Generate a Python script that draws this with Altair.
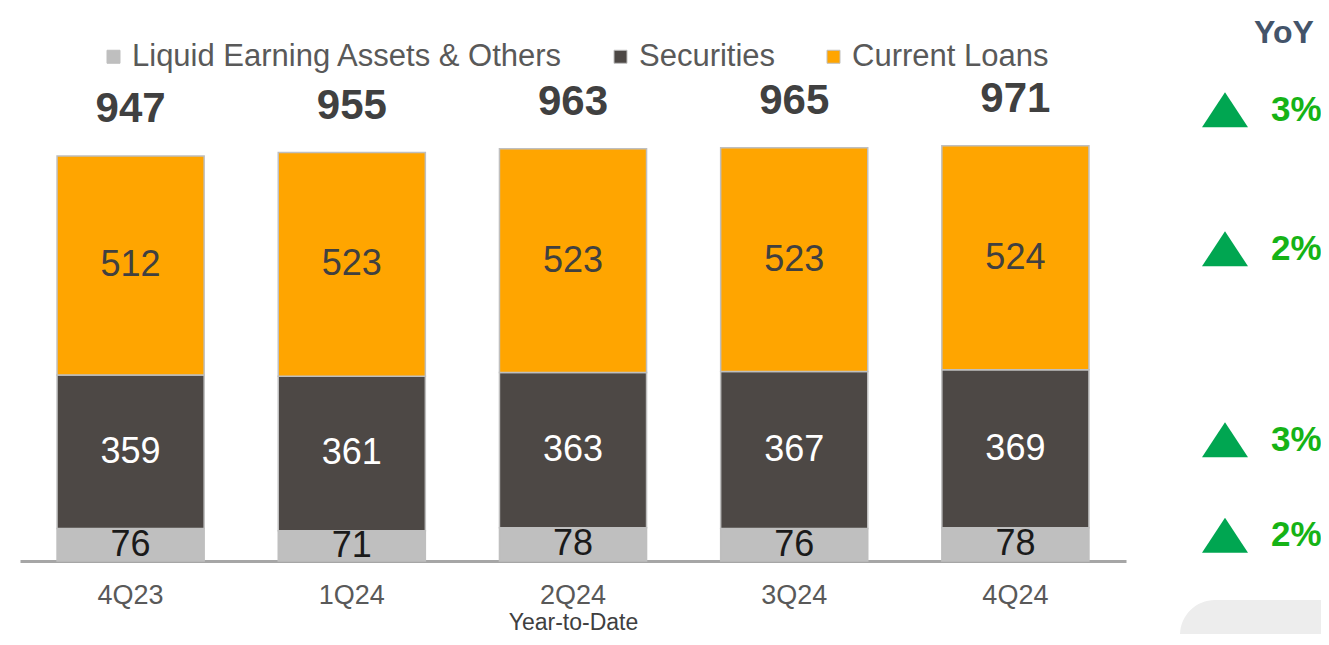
import altair as alt
import pandas as pd

# ---- data ----
quarters = ["4Q23", "1Q24", "2Q24", "3Q24", "4Q24"]
liquid = [76, 71, 78, 76, 78]
securities = [359, 361, 363, 367, 369]
loans = [512, 523, 523, 523, 524]
totals = [947, 955, 963, 965, 971]

series = ["Liquid Earning Assets & Others", "Securities", "Current Loans"]
series_colors = ["#bfbfbf", "#4d4845", "#ffa500"]
label_colors = ["#1a1a1a", "#ffffff", "#404040"]

yoy_total = "3%"
yoy_segments = ["2%", "3%", "2%"]          # Current Loans, Securities, Liquid
yoy_segment_series = ["Current Loans", "Securities", "Liquid Earning Assets & Others"]

FONT = "Liberation Sans, Arial, Helvetica, sans-serif"

# ---- tables built from the arrays ----
rows = []
values_by_series = {series[0]: liquid, series[1]: securities, series[2]: loans}
for qi, q in enumerate(quarters):
    base = 0
    for si, s in enumerate(series):
        v = values_by_series[s][qi]
        rows.append({"quarter": q, "series": s, "value": v, "order": si,
                     "mid": base + v / 2.0, "labelColor": label_colors[si]})
        base += v
df = pd.DataFrame(rows)
df_tot = pd.DataFrame({"quarter": quarters, "total": totals})

last = df[df["quarter"] == quarters[-1]].set_index("series")
df_yoy_seg = pd.DataFrame({
    "series": yoy_segment_series,
    "yoy": yoy_segments,
    "anchor": [last.loc[s, "mid"] for s in yoy_segment_series],
})
df_yoy_tot = pd.DataFrame({"yoy": [yoy_total], "anchor": [totals[-1]]})

W, H = 1106, 541
yscale = alt.Scale(domain=[0, 1265])
xenc = alt.X(
    "quarter:N", sort=quarters,
    scale=alt.Scale(paddingInner=0.335, paddingOuter=0.1675),
    axis=alt.Axis(
        title="Year-to-Date", labelAngle=0, ticks=False,
        domainColor="#a6a6a6", domainWidth=3,
        labelFontSize=27, labelColor="#595959", labelPadding=21, labelFont=FONT,
        titleFontSize=23, titleColor="#404040", titleFontWeight="normal",
        titleFont=FONT, titleY=50, titleBaseline="top",
    ),
)

bars = alt.Chart(df).mark_bar(stroke="#bfbfbf", strokeWidth=1.5).encode(
    x=xenc,
    y=alt.Y("value:Q", stack="zero", scale=yscale, axis=None),
    order=alt.Order("order:Q", sort="ascending"),
    color=alt.Color(
        "series:N",
        scale=alt.Scale(domain=series, range=series_colors),
        legend=alt.Legend(
            title=None, orient="none", direction="horizontal",
            legendX=78, legendY=21, padding=0,
            symbolType="square", symbolSize=169, symbolStrokeWidth=1,
            labelFontSize=31, labelColor="#595959", labelFont=FONT,
            labelOffset=3, labelLimit=700, columnPadding=42,
        ),
    ),
)

seg_labels = alt.Chart(df).mark_text(
    fontSize=36, font=FONT, baseline="middle", align="center"
).encode(
    x=alt.X("quarter:N", sort=quarters),
    y=alt.Y("mid:Q", scale=yscale),
    text=alt.Text("value:Q"),
    color=alt.Color("labelColor:N", scale=None),
)

tot_labels = alt.Chart(df_tot).mark_text(
    fontSize=42, fontWeight="bold", font=FONT, color="#404040",
    baseline="middle", align="center", dy=-47,
).encode(
    x=alt.X("quarter:N", sort=quarters),
    y=alt.Y("total:Q", scale=yscale),
    text="total:N",
)

# ---- YoY column ----
yoy_head = alt.Chart(pd.DataFrame({"t": ["YoY"]})).mark_text(
    fontSize=32, fontWeight="bold", font=FONT, color="#44546a",
    align="center", baseline="middle",
).encode(x=alt.value(1264), y=alt.value(13), text="t:N")

tri_shape = "M-1,0.76L0,-0.76L1,0.76Z"
yoy_tri_seg = alt.Chart(df_yoy_seg).mark_point(
    shape=tri_shape, filled=True, size=2116, color="#00a651", opacity=1, yOffset=-9,
).encode(x=alt.value(1205), y=alt.Y("anchor:Q", scale=yscale))
yoy_txt_seg = alt.Chart(df_yoy_seg).mark_text(
    fontSize=35, fontWeight="bold", font=FONT, color="#16b316",
    align="left", baseline="middle", dy=-9,
).encode(x=alt.value(1251), y=alt.Y("anchor:Q", scale=yscale), text="yoy:N")

yoy_tri_tot = alt.Chart(df_yoy_tot).mark_point(
    shape=tri_shape, filled=True, size=2116, color="#00a651", opacity=1, yOffset=-36,
).encode(x=alt.value(1205), y=alt.Y("anchor:Q", scale=yscale))
yoy_txt_tot = alt.Chart(df_yoy_tot).mark_text(
    fontSize=35, fontWeight="bold", font=FONT, color="#16b316",
    align="left", baseline="middle", dy=-36,
).encode(x=alt.value(1251), y=alt.Y("anchor:Q", scale=yscale), text="yoy:N")

corner = alt.Chart(pd.DataFrame({"d": [0]})).mark_rect(
    color="#ededed", cornerRadiusTopLeft=48,
).encode(x=alt.value(1160), x2=alt.value(1320), y=alt.value(580), y2=alt.value(650))

chart = alt.layer(
    corner, bars, seg_labels, tot_labels,
    yoy_head, yoy_tri_tot, yoy_txt_tot, yoy_tri_seg, yoy_txt_seg,
).properties(
    width=W, height=H,
    autosize=alt.AutoSizeParams(type="none"),
    padding={"left": 12, "top": 12, "right": 195, "bottom": 73},
).configure(
    font=FONT, background="white", view=alt.ViewConfig(stroke=None)
)

chart.save("out.html", embed_options={"renderer": "svg", "actions": False})
